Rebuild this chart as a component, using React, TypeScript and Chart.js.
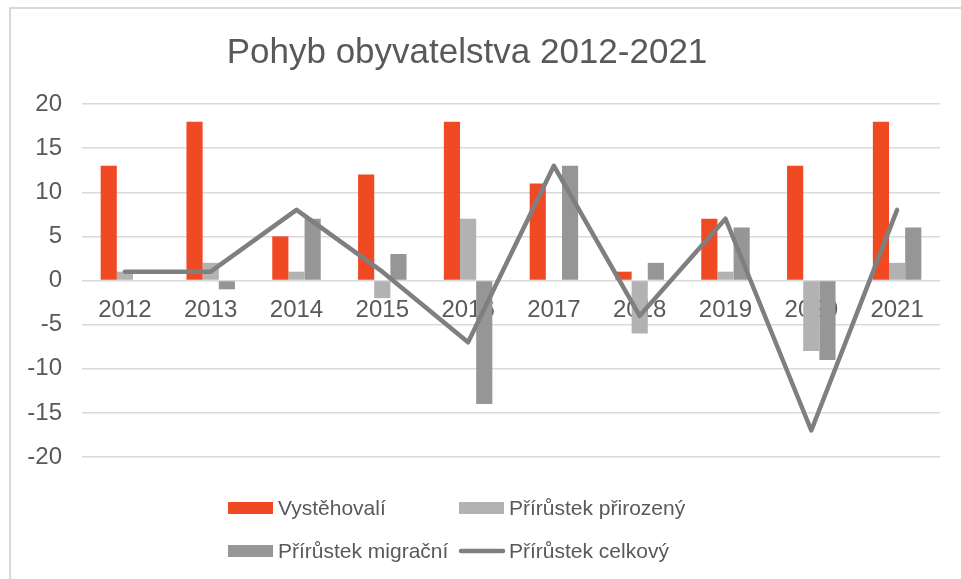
import React, { useEffect, useRef } from 'react';
import { Chart, registerables } from 'chart.js';

Chart.register(...registerables);

const chartTitle = 'Pohyb obyvatelstva 2012-2021';
const categories = ['2012', '2013', '2014', '2015', '2016', '2017', '2018', '2019', '2020', '2021'];
const vystehovali = [13, 18, 5, 12, 18, 11, 1, 7, 13, 18];
const prirozeny = [1, 2, 1, -2, 7, 0, -6, 1, -8, 2];
const migracni = [0, -1, 7, 3, -14, 13, 2, 6, -9, 6];
const celkovy = [1, 1, 8, 1, -7, 13, -4, 7, -17, 8];
const seriesNames = ['Vystěhovalí', 'Přírůstek přirozený', 'Přírůstek migrační', 'Přírůstek celkový'];

const RED = '#F04A24';
const LIGHT = '#B2B2B2';
const DARK = '#969696';
const LINE = '#7F7F7F';
const TEXT = '#595959';
const GRID = '#D9D9D9';
const FONT = '"Liberation Sans", Arial, sans-serif';

const decorPlugin = {
  id: 'decor',
  beforeDraw(chart: any) {
    const ctx = chart.ctx;
    ctx.save();
    ctx.fillStyle = '#ffffff';
    ctx.fillRect(0, 0, chart.width, chart.height);
    ctx.strokeStyle = GRID;
    ctx.lineWidth = 2;
    ctx.beginPath();
    ctx.moveTo(10, chart.height);
    ctx.lineTo(10, 8);
    ctx.lineTo(chart.width, 8);
    ctx.stroke();
    ctx.restore();
  },
  afterDraw(chart: any) {
    const ctx = chart.ctx;
    ctx.save();
    // title
    ctx.fillStyle = TEXT;
    ctx.font = `35px ${FONT}`;
    ctx.textAlign = 'center';
    ctx.textBaseline = 'alphabetic';
    ctx.fillText(chartTitle, 467, 63);
    // legend
    const cols = [228, 459];
    const rows = [508, 551];
    ctx.font = `21px ${FONT}`;
    ctx.textAlign = 'left';
    ctx.textBaseline = 'middle';
    chart.data.datasets.forEach((ds: any, i: number) => {
      const x = cols[i % 2];
      const y = rows[Math.floor(i / 2)];
      if (ds.type === 'line') {
        ctx.strokeStyle = ds.borderColor;
        ctx.lineWidth = 4.5;
        ctx.lineCap = 'round';
        ctx.beginPath();
        ctx.moveTo(x + 2, y);
        ctx.lineTo(x + 44, y);
        ctx.stroke();
      } else {
        ctx.fillStyle = ds.backgroundColor;
        ctx.fillRect(x, y - 6, 45, 12);
      }
      ctx.fillStyle = TEXT;
      ctx.fillText(ds.label, x + 50, y + 1);
    });
    ctx.restore();
  },
};

export default function App() {
  const ref = useRef<HTMLCanvasElement>(null);
  useEffect(() => {
    const canvas = ref.current;
    if (!canvas) return;
    const chart = new Chart(canvas, {
      type: 'bar',
      data: {
        labels: categories,
        datasets: [
          { type: 'bar', label: seriesNames[0], data: vystehovali, backgroundColor: RED, borderWidth: 0, order: 1 },
          { type: 'bar', label: seriesNames[1], data: prirozeny, backgroundColor: LIGHT, borderWidth: 0, order: 1 },
          { type: 'bar', label: seriesNames[2], data: migracni, backgroundColor: DARK, borderWidth: 0, order: 1 },
          {
            type: 'line', label: seriesNames[3], data: celkovy, borderColor: LINE, backgroundColor: LINE,
            borderWidth: 4.5, pointRadius: 0, tension: 0, fill: false,
            borderCapStyle: 'round', borderJoinStyle: 'round', order: 0,
          },
        ] as any,
      },
      options: {
        responsive: false,
        animation: false,
        layout: { padding: { left: 0, right: 21, top: 104, bottom: 122 } },
        datasets: { bar: { categoryPercentage: 0.565, barPercentage: 1 } } as any,
        plugins: { legend: { display: false }, title: { display: false }, tooltip: { enabled: false } },
        scales: {
          x: {
            position: { y: 0 } as any,
            offset: true,
            grid: { display: false, drawTicks: false },
            border: { display: false },
            ticks: { color: TEXT, font: { family: FONT, size: 24 }, padding: 15, maxRotation: 0, autoSkip: false },
            afterFit: (s: any) => { s.paddingLeft = 0; s.paddingRight = 0; },
          },
          y: {
            min: -20,
            max: 20,
            ticks: { stepSize: 5, color: TEXT, font: { family: FONT, size: 24 }, padding: 20 },
            grid: { color: GRID, lineWidth: 1.5, drawTicks: false },
            border: { display: false },
            afterFit: (s: any) => { s.width = 82; s.paddingTop = 0; s.paddingBottom = 0; },
          },
        },
      },
      plugins: [decorPlugin],
    });
    return () => chart.destroy();
  }, []);
  return (
    <canvas
      ref={ref}
      width={961}
      height={579}
      style={{ position: 'absolute', left: 0, top: 0, width: 961, height: 579 }}
    />
  );
}
